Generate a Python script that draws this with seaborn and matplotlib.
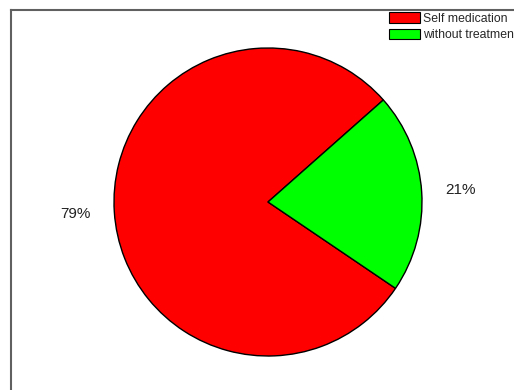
import matplotlib
matplotlib.use("Agg")
import matplotlib.pyplot as plt
from matplotlib.patches import Patch
import seaborn as sns

categories = ["Self medication", "without treatment"]
values = [79, 21]
pct_labels = ["79%", "21%"]
colors = ["#ff0000", "#00ff00"]

sns.set_style("white")
plt.rcParams["font.family"] = ["Liberation Sans", "DejaVu Sans"]

W, H = 514, 390
fig = plt.figure(figsize=(W / 100, H / 100), dpi=100)
fig.patch.set_facecolor("white")

# axes frame: left edge at 11px, top at 10px, extends past right/bottom of canvas
left_px, top_px, right_px, bottom_px = 11, 10, 530, 400
ax = fig.add_axes([left_px / W, 1 - bottom_px / H, (right_px - left_px) / W, (bottom_px - top_px) / H])

cx, cy, r = 268, 202, 154
wedges, texts = ax.pie(values, labels=pct_labels, colors=colors, startangle=41.5,
                       counterclock=True, labeldistance=1.255,
                       wedgeprops=dict(edgecolor="black", linewidth=1.0),
                       textprops=dict(fontsize=11, color="#222222"))
for t in texts:
    t.set_ha("center")
    t.set_va("center")

ax.set_aspect("auto")
ax.set_xlim((left_px - cx) / r, (right_px - cx) / r)
ax.set_ylim((cy - bottom_px) / r, (cy - top_px) / r)
ax.set_frame_on(True)
for s in ax.spines.values():
    s.set_visible(True)
    s.set_color("#606060")
    s.set_linewidth(1.5)
ax.set_xticks([])
ax.set_yticks([])

handles = [Patch(facecolor=c, edgecolor="black", linewidth=0.8) for c in colors]
fs = 8.8
fpx = fs * 100 / 72
fig.legend(handles, categories, loc="upper left",
           bbox_to_anchor=(389 / W, 1 - 12 / H), frameon=False, borderpad=0,
           borderaxespad=0, fontsize=fs, handlelength=31 / fpx, handleheight=12 / fpx,
           handletextpad=3 / fpx, labelspacing=4.0 / fpx)

fig.savefig("out.png", dpi=100, facecolor="white")
